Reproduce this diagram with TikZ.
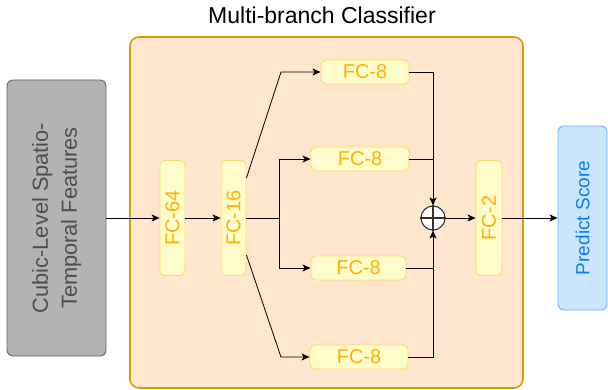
\documentclass[tikz,border=0pt]{standalone}
\usepackage{fontspec}
\setmainfont{Liberation Sans}
\usetikzlibrary{arrows.meta}
\definecolor{outerfill}{HTML}{FFE6CC}
\definecolor{outerdraw}{HTML}{D79B00}
\definecolor{fcfill}{HTML}{FFFCCC}
\definecolor{fcdraw}{HTML}{FFD966}
\definecolor{fctext}{HTML}{FFB000}
\definecolor{grayfill}{HTML}{B3B3B3}
\definecolor{graydraw}{HTML}{666666}
\definecolor{graytext}{HTML}{4D4D4D}
\definecolor{bluefill}{HTML}{CCE5FF}
\definecolor{bluedraw}{HTML}{66B2FF}
\definecolor{bluetext}{HTML}{007FFF}
\begin{document}
\begin{tikzpicture}[x=1pt,y=-1pt,
  outerbox/.style={draw=outerdraw,fill=outerfill,line width=1.6pt,rounded corners=9pt,inner sep=0pt},
  fcbox/.style={draw=fcdraw,fill=fcfill,line width=0.9pt,rounded corners=5pt,inner sep=0pt,text=fctext,font=\fontsize{20}{23}\selectfont},
  featbox/.style={draw=graydraw,fill=grayfill,line width=0.9pt,rounded corners=6pt,inner sep=0pt,text=graytext,font=\fontsize{21.8}{29}\selectfont},
  predbox/.style={draw=bluedraw,fill=bluefill,line width=0.9pt,rounded corners=6pt,inner sep=0pt,text=bluetext,font=\fontsize{19}{22}\selectfont},
  conn/.style={line width=0.8pt,black},
  arr/.style={conn,-{Stealth[length=8pt,width=7pt,inset=2pt]}},
  sumnode/.style={circle,draw=black!80,fill=white,line width=1.1pt,minimum size=24pt,inner sep=0pt}
]
\useasboundingbox (0,0) rectangle (608,390);
\node[outerbox,minimum width=393pt,minimum height=351pt] (outer) at (326.5,212.5) {};
\node[font=\fontsize{23}{26}\selectfont] (title) at (322,15) {Multi-branch Classifier};

\node[featbox,minimum width=99pt,minimum height=276pt] (feat) at (56.5,218)
  {\rotatebox{90}{\begin{tabular}{@{}c@{}}Cubic-Level Spatio-\\Temporal Features\end{tabular}}};
\node[fcbox,minimum width=25pt,minimum height=115pt] (fc64) at (172.5,218) {\rotatebox{90}{FC-64}};
\node[fcbox,minimum width=25pt,minimum height=115pt] (fc16) at (233.5,218) {\rotatebox{90}{FC-16}};
\node[fcbox,minimum width=88pt,minimum height=24pt] (b1) at (365,72) {FC-8};
\node[fcbox,minimum width=98pt,minimum height=24pt] (b2) at (360,159) {FC-8};
\node[fcbox,minimum width=95pt,minimum height=24pt] (b3) at (358.5,268) {FC-8};
\node[fcbox,minimum width=98pt,minimum height=24pt] (b4) at (359,357) {FC-8};
\node[sumnode] (sum) at (433,218) {};
\draw[black!80,line width=1.1pt] (sum.north) -- (sum.south) (sum.west) -- (sum.east);
\node[fcbox,minimum width=26pt,minimum height=115pt] (fc2) at (489,218) {\rotatebox{90}{FC-2}};
\node[predbox,minimum width=49pt,minimum height=184pt] (pred) at (582.5,218) {\rotatebox{90}{Predict Score}};

\coordinate (s) at (279,218);
\coordinate (k1) at (281,72);
\coordinate (k4) at (281,357);

\draw[arr] (feat.east) -- (fc64.west);
\draw[arr] (fc64.east) -- (fc16.west);
\draw[conn] (fc16.east) -- (s);
\draw[arr] (s) |- (b2.west);
\draw[arr] (s) |- (b3.west);
\draw[arr] ([yshift=40pt]fc16.east) -- (k1) -- (b1.west);
\draw[arr] ([yshift=-37pt]fc16.east) -- (k4) -- (b4.west);
\draw[arr] (b1.east) -| (sum.north);
\draw[conn] (b2.east) -- (b2.east -| sum.north);
\draw[conn] (b3.east) -- (b3.east -| sum.south);
\draw[arr] (b4.east) -| (sum.south);
\draw[arr] (sum.east) -- (fc2.west);
\draw[arr] (fc2.east) -- (pred.west);
\end{tikzpicture}
\end{document}
